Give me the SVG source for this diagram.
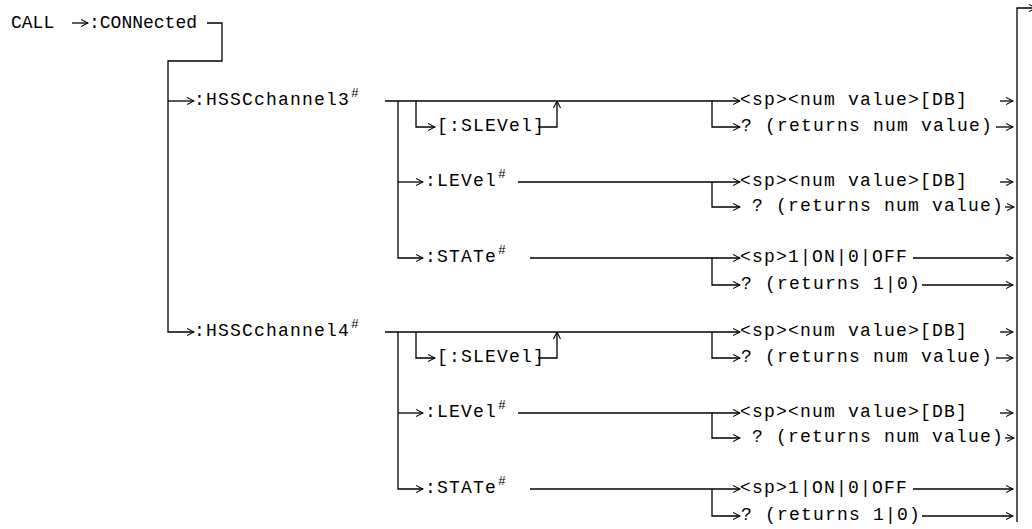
<svg xmlns="http://www.w3.org/2000/svg" width="1032" height="529" viewBox="0 0 1032 529">
<defs>
<marker id="ah" viewBox="0 0 8 8" refX="7.5" refY="4" markerWidth="8" markerHeight="8" markerUnits="userSpaceOnUse" orient="auto">
<path d="M0.5,0.5 L7.5,4 L0.5,7.5" fill="none" stroke="#000" stroke-width="1.1"/>
</marker>
<style>
.t{font-family:"Liberation Mono","Courier New",monospace;font-size:18px;letter-spacing:1.2px;fill:#000}
.n{font-family:"Liberation Mono","Courier New",monospace;font-size:18px;fill:#000}
.s{font-family:"Liberation Mono","Courier New",monospace;font-size:13px;fill:#000}
.c path{fill:none;stroke:#000;stroke-width:1.3}
.c path.a{marker-end:url(#ah)}
</style>
</defs>
<rect width="1032" height="529" fill="#fff"/>
<g id="connectors" class="c">
<path class="a" d="M72,23 H88"/>
<path class="a" d="M207,23 H222 V61 H168 V332 H194"/>
<path class="a" d="M168,101 H194"/>
<path class="a" d="M1017,522 V8 H1036"/>
<!-- HSSCchannel3 subtree -->
<path class="a" d="M385,101 H740"/>
<path class="a" d="M398,101 V258 H423"/>
<path class="a" d="M398,182 H423"/>
<path class="a" d="M416,101 V127 H435"/>
<path class="a" d="M538,127 H557 V101"/>
<path class="a" d="M712,101 V127 H740"/>
<path class="a" d="M1000,101 H1013"/>
<path class="a" d="M996,127 H1013"/>
<path class="a" d="M518,182 H740"/>
<path class="a" d="M712,182 V207 H740"/>
<path class="a" d="M1000,182 H1013"/>
<path class="a" d="M1005,207 H1014"/>
<path class="a" d="M530,258 H740"/>
<path class="a" d="M712,258 V285 H740"/>
<path class="a" d="M913,258 H1013"/>
<path class="a" d="M922,285 H1013"/>
<!-- HSSCchannel4 subtree -->
<path class="a" d="M385,332 H740"/>
<path class="a" d="M398,332 V489 H423"/>
<path class="a" d="M398,413 H423"/>
<path class="a" d="M416,332 V358 H435"/>
<path class="a" d="M538,358 H557 V332"/>
<path class="a" d="M712,332 V358 H740"/>
<path class="a" d="M1000,332 H1013"/>
<path class="a" d="M996,358 H1013"/>
<path class="a" d="M518,413 H740"/>
<path class="a" d="M712,413 V438 H740"/>
<path class="a" d="M1000,413 H1013"/>
<path class="a" d="M1005,438 H1014"/>
<path class="a" d="M530,489 H740"/>
<path class="a" d="M712,489 V516 H740"/>
<path class="a" d="M913,489 H1013"/>
<path class="a" d="M922,516 H1013"/>
</g>
<g id="call"><text class="n" x="11" y="28">CALL</text></g>
<g id="connected"><text class="n" x="89" y="28">:CONNected</text></g>
<g id="hssc3"><text class="t" x="194" y="105">:HSSCchannel3</text><text class="s" x="351" y="97">#</text></g>
<g id="slevel3"><text class="t" x="437" y="131">[:SLEVel]</text></g>
<g id="level3"><text class="t" x="425" y="186">:LEVel</text><text class="s" x="498" y="178">#</text></g>
<g id="state3"><text class="t" x="425" y="262">:STATe</text><text class="s" x="498" y="254">#</text></g>
<g id="slev3-set"><text class="t" x="740" y="105">&lt;sp&gt;&lt;num value&gt;[DB]</text></g>
<g id="slev3-q"><text class="t" x="741" y="131">? (returns num value)</text></g>
<g id="lev3-set"><text class="t" x="740" y="186">&lt;sp&gt;&lt;num value&gt;[DB]</text></g>
<g id="lev3-q"><text class="t" x="752" y="211">? (returns num value)</text></g>
<g id="stat3-set"><text class="t" x="740" y="262">&lt;sp&gt;1|ON|0|OFF</text></g>
<g id="stat3-q"><text class="t" x="741" y="289">? (returns 1|0)</text></g>
<g id="hssc4"><text class="t" x="194" y="336">:HSSCchannel4</text><text class="s" x="351" y="328">#</text></g>
<g id="slevel4"><text class="t" x="437" y="362">[:SLEVel]</text></g>
<g id="level4"><text class="t" x="425" y="417">:LEVel</text><text class="s" x="498" y="409">#</text></g>
<g id="state4"><text class="t" x="425" y="493">:STATe</text><text class="s" x="498" y="485">#</text></g>
<g id="slev4-set"><text class="t" x="740" y="336">&lt;sp&gt;&lt;num value&gt;[DB]</text></g>
<g id="slev4-q"><text class="t" x="741" y="362">? (returns num value)</text></g>
<g id="lev4-set"><text class="t" x="740" y="417">&lt;sp&gt;&lt;num value&gt;[DB]</text></g>
<g id="lev4-q"><text class="t" x="752" y="442">? (returns num value)</text></g>
<g id="stat4-set"><text class="t" x="740" y="493">&lt;sp&gt;1|ON|0|OFF</text></g>
<g id="stat4-q"><text class="t" x="741" y="520">? (returns 1|0)</text></g>
</svg>
